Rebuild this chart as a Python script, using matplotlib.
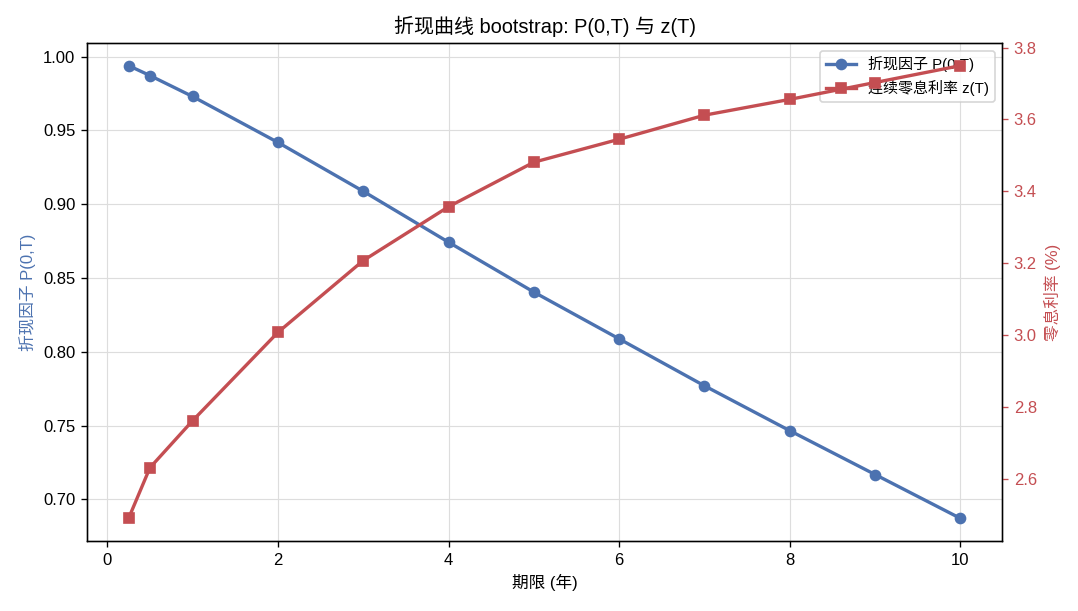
import matplotlib
matplotlib.use("Agg")
import matplotlib.pyplot as plt

plt.rcParams['font.family'] = ['Liberation Sans', 'Noto Sans CJK SC', 'DejaVu Sans']
plt.rcParams['axes.unicode_minus'] = False

# maturities (years)
maturities = [0.25, 0.5, 1, 2, 3, 4, 5, 6, 7, 8, 9, 10]
# discount factors P(0,T)
discount = [0.9939, 0.9872, 0.9730, 0.9419, 0.9088, 0.8743,
            0.8405, 0.8088, 0.7770, 0.7466, 0.7169, 0.6872]
# continuous zero rates z(T) in %
zero_rate = [2.489, 2.630, 2.761, 3.007, 3.207, 3.357,
             3.481, 3.545, 3.612, 3.656, 3.703, 3.750]

blue = '#4C72B0'
red = '#C44E52'

W, H = 1078, 611
fig = plt.figure(figsize=(W / 120, H / 120), dpi=120)
ax = fig.add_axes([87 / W, 1 - 541 / H, (1002 - 87) / W, (541 - 43) / H])
ax2 = ax.twinx()

l1, = ax.plot(maturities, discount, color=blue, marker='o', lw=2, ms=6,
              label='折现因子 P(0,T)')
l2, = ax2.plot(maturities, zero_rate, color=red, marker='s', lw=2, ms=6,
               label='连续零息利率 z(T)')

ax.set_xlabel('期限 (年)', fontsize=10)
ax.set_ylabel('折现因子 P(0,T)', color=blue, fontsize=10)
ax2.set_ylabel('零息利率 (%)', color=red, fontsize=10)
ax2.tick_params(axis='y', colors=red, labelsize=10)
ax2.spines['right'].set_color('black')
ax.tick_params(labelsize=10)
ax.grid(True, color='#dddddd', lw=0.7)
ax.set_title('折现曲线 bootstrap: P(0,T) 与 z(T)', fontsize=12)

ax.legend([l1, l2], [l1.get_label(), l2.get_label()], loc='upper right', fontsize=9)

fig.savefig('out.png', dpi=120)
